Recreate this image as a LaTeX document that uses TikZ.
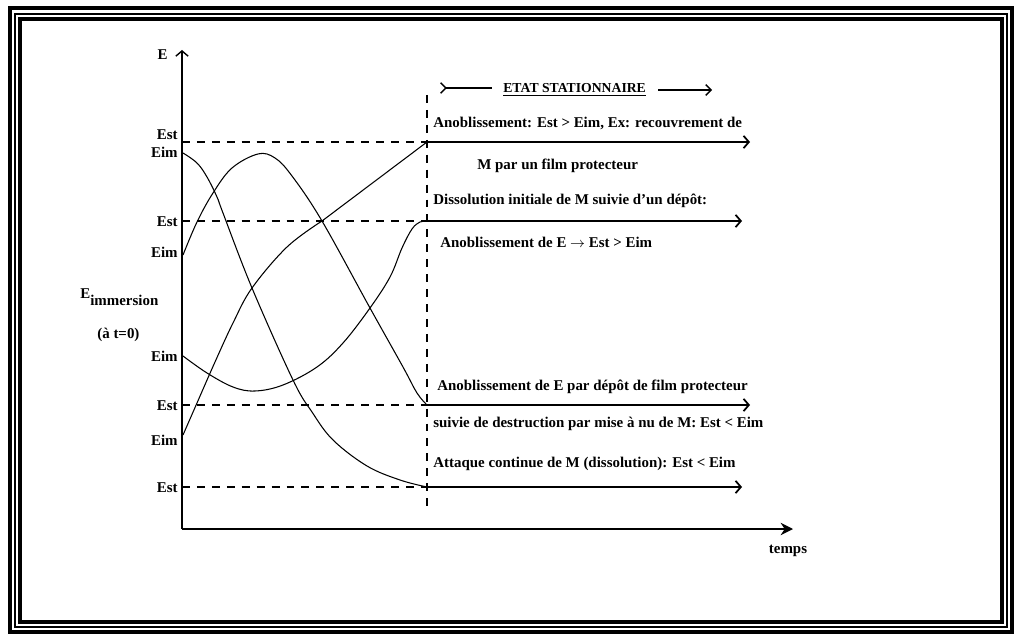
\documentclass[tikz,border=0pt]{standalone}
\usepackage{fontspec}
\setmainfont{Liberation Serif}
\usetikzlibrary{arrows.meta}
\tikzset{
  lbl/.style={font=\bfseries\fontsize{8.5}{10}\selectfont,inner sep=0pt},
  curve/.style={line width=0.6pt},
  guide/.style={line width=0.7pt,dash pattern=on 4.5pt off 4pt},
  statarrow/.style={line width=1pt,-{Straight Barb[length=3pt,width=7pt]}},
}
\newcommand{\tripleframe}{%
  \draw[line width=2.5pt] (10,8) rectangle (1012,632);
  \draw[line width=0.9pt] (15,14) rectangle (1007,627);
  \draw[line width=1.8pt] (20,19) rectangle (1002,622);}
\newcommand{\levelname}[3]{\node[lbl,anchor=base east] (#1) at (178,#2) {#3};}
\newcommand{\statetext}[4]{\node[lbl,anchor=base west] (#1) at (#2,#3) {#4};}

\begin{document}
\begin{tikzpicture}[x=0.02cm,y=-0.02cm]
\useasboundingbox (0,0) rectangle (1015,635);
\tripleframe
% axes
\coordinate (o) at (182,529);
\coordinate (ytop) at (182,50);
\coordinate (xend) at (793,529);
\draw[line width=0.8pt,-{Straight Barb[length=3pt,width=7pt]}] (o) -- (ytop);
\draw[line width=1pt,-{Stealth[length=7pt,width=7pt]}] (o) -- (xend);
\node[lbl,anchor=base east] (E) at (168,60) {E};
\node[lbl,anchor=base] (temps) at (788,553) {temps};
\node[lbl,anchor=base west] (Eimm) at (80,298) {E\raisebox{-4pt}{immersion}};
\node[lbl,anchor=base west] (t0) at (97,338) {(à t=0)};
% stationary state
\coordinate (vtop) at (427,95);
\coordinate (vbot) at (427,513);
\draw[guide] (vtop) -- (vbot);
\foreach \n/\y/\e in {1/142/750,2/221/742,3/405/750,4/487/742}{
  \coordinate (a\n) at (182,\y);
  \coordinate (s\n) at (427,\y);
  \coordinate (e\n) at (\e,\y);
  \draw[guide] (a\n) -- (s\n);
  \draw[statarrow] (s\n) -- (e\n);
}
\node[lbl,font=\bfseries\fontsize{7.8}{9}\selectfont,anchor=base west] (etat) at (503,93) {\underline{ETAT STATIONNAIRE}};
\coordinate (ltail) at (440,88);
\coordinate (lhead) at (492,88);
\coordinate (rtail) at (658,90);
\coordinate (rhead) at (712,90);
\draw[line width=0.8pt,{Straight Barb[reversed,length=3pt,width=6pt]}-] (ltail) -- (lhead);
\draw[line width=0.8pt,-{Straight Barb[length=3pt,width=6pt]}] (rtail) -- (rhead);
% left values
\levelname{est1}{140}{Est}
\levelname{eim1}{157}{Eim}
\levelname{est2}{227}{Est}
\levelname{eim2}{257}{Eim}
\levelname{eim3}{361}{Eim}
\levelname{est3}{410}{Est}
\levelname{eim4}{445}{Eim}
\levelname{est4}{492}{Est}
% curves
\draw[curve] plot[smooth,tension=0.6] coordinates {(183,435)(197,403)(215,362)(233,323)(252,288)(287,247)(322,221)} -- (s1);
\draw[curve] plot[smooth,tension=0.6] coordinates {(183,356)(207,373)(233,387)(255,391)(283,385)(317,367)(343,343)(370,308)(390,277)(402,248)(412,229)(420,222)(427,221)};
\draw[curve] plot[smooth,tension=0.6] coordinates {(183,255)(197,222)(213,193)(232,168)(258,154)(275,158)(292,176)(322,221)(370,308)(403,367)(417,393)(427,405)};
\draw[curve] plot[smooth,tension=0.6] coordinates {(183,153)(197,163)(207,177)(217,197)(223,213)(252,288)(293,380)(312,412)(333,440)(367,466)(400,480)(427,487)};
% texts
\statetext{t1}{433}{128}{Anoblissement: Est > Eim, Ex: recouvrement de}
\statetext{t2}{477}{170}{M par un film protecteur}
\statetext{t3}{433}{205}{Dissolution initiale de M suivie d'un dépôt:}
\statetext{t4}{440}{247}{Anoblissement de E $\rightarrow$ Est > Eim}
\statetext{t5}{437}{390}{Anoblissement de E par dépôt de film protecteur}
\statetext{t6}{433}{427}{suivie de destruction par mise à nu de M: Est < Eim}
\statetext{t7}{433}{467}{Attaque continue de M (dissolution): Est < Eim}
\end{tikzpicture}
\end{document}
